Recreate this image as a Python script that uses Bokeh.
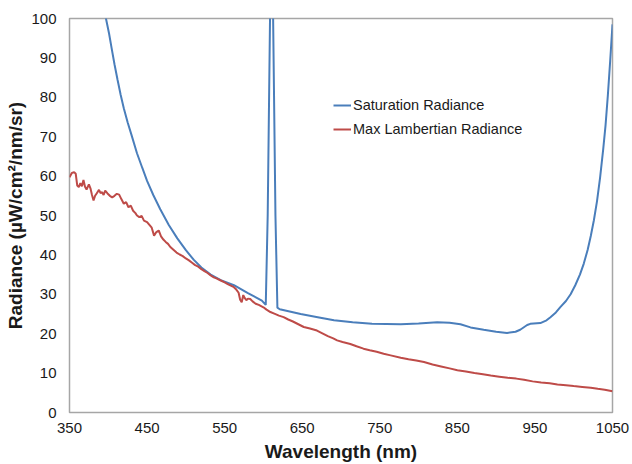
from bokeh.plotting import figure
from bokeh.models import Range1d, FixedTicker, Legend, LegendItem
from bokeh.embed import file_html
from bokeh.resources import INLINE

# Saturation Radiance (blue)
blue_wl = [394, 397, 401, 404, 408, 412, 416, 420, 425, 430, 437, 444, 450, 458, 467, 478, 489, 500,
           510, 520, 532, 545, 562, 580, 598, 603,
           605.5, 608.5, 610.5, 612.5, 615.5, 618, 621, 648, 670, 691, 715, 740, 777, 800, 824, 840,
           854, 867, 884, 900, 914, 925, 931, 940, 944, 957, 965, 970, 977, 983, 990, 996, 1002,
           1008, 1013, 1018, 1022, 1026, 1030, 1034, 1038, 1041, 1044, 1047, 1050]
blue_val = [106, 100, 96.2, 92.8, 88.4, 84.4, 80.6, 77.2, 73.6, 70.4, 65.8, 62.0, 58.8, 55.2, 51.6,
            47.6, 44.2, 41.2, 38.8, 36.8, 35.0, 33.6, 32.3, 30.3, 28.4, 27.3,
            50, 100, 125, 100, 50, 26.6, 26.2, 25, 24.2, 23.4, 22.9, 22.5, 22.4, 22.6, 22.9, 22.8,
            22.4, 21.6, 21.0, 20.5, 20.2, 20.5, 21.0, 22.2, 22.5, 22.7, 23.4, 24.2, 25.4, 26.8, 28.3,
            30.0, 32.3, 35.0, 37.8, 41.3, 44.8, 48.8, 53.6, 59.6, 66.8, 72.8, 80.5, 89.2, 98.5]

# Max Lambertian Radiance (red)
red_wl = [350, 353, 356, 358, 360, 362, 364, 366, 368, 370, 372, 375, 377, 379, 381, 383, 385, 388,
          390, 392, 394, 396, 399, 402, 405, 408, 411, 414, 417, 420, 423, 426, 429, 432, 435, 437,
          440, 443, 446, 450, 453, 456, 459, 462, 465, 468, 471, 474, 477, 480, 484, 488, 492, 496,
          500, 504, 508, 512, 516, 520, 524, 528, 532, 536, 540, 545, 550, 554, 558, 562, 565, 568,
          570, 572, 574, 576, 578, 580, 583, 586, 590, 594, 597, 600, 604, 609, 614, 620, 626, 632,
          638, 645, 652, 660, 669, 676, 683, 690, 695, 702, 712, 720, 729, 737, 746, 755, 764, 777,
          787, 797, 807, 818, 829, 840, 850, 861, 872, 883, 893, 904, 915, 926, 936, 947, 958, 969,
          979, 990, 1000, 1011, 1022, 1031, 1040, 1050]
red_val = [59.7, 60.8, 61.0, 60.6, 57.6, 57.2, 58.2, 57.4, 59.0, 57.3, 56.6, 57.9, 56.9, 55.2, 53.8,
           55.0, 55.6, 56.5, 55.7, 55.9, 55.2, 56.3, 55.6, 55.0, 54.6, 55.0, 55.5, 55.3, 54.1, 53.0,
           53.4, 52.1, 52.5, 51.2, 50.6, 50.0, 49.6, 49.9, 48.7, 48.3, 47.6, 46.9, 44.9, 45.8, 46.2,
           44.7, 43.9, 43.3, 42.8, 42.0, 41.3, 40.6, 40.1, 39.7, 39.1, 38.6, 38.0, 37.4, 37.0, 36.4,
           35.9, 35.4, 34.8, 34.3, 34.0, 33.5, 33.0, 32.6, 32.2, 31.8, 31.2, 30.4, 28.6, 28.0, 29.8,
           29.0, 28.5, 28.9, 28.8, 28.2, 27.6, 27.3, 27.0, 26.7, 26.1, 25.5, 25.1, 24.6, 24.2, 23.6,
           23.1, 22.4, 21.7, 21.3, 20.8, 20.1, 19.4, 18.8, 18.3, 17.9, 17.4, 16.8, 16.2, 15.8, 15.4,
           14.9, 14.5, 13.9, 13.5, 13.2, 12.8, 12.2, 11.7, 11.2, 10.7, 10.4, 10.0, 9.7, 9.4, 9.1, 8.8,
           8.6, 8.3, 7.9, 7.6, 7.4, 7.1, 6.9, 6.7, 6.5, 6.3, 6.0, 5.8, 5.4]

x_ticks = [350, 450, 550, 650, 750, 850, 950, 1050]
y_ticks = [0, 10, 20, 30, 40, 50, 60, 70, 80, 90, 100]

FONT = "Liberation Sans"

p = figure(width=632, height=464, output_backend="svg", toolbar_location=None,
           x_range=Range1d(350, 1050), y_range=Range1d(0, 100),
           min_border_left=69, min_border_right=20, min_border_top=18, min_border_bottom=52)
p.background_fill_color = "white"
p.border_fill_color = "white"
p.outline_line_color = "#a6a6a6"
p.outline_line_width = 1.5
p.xgrid.visible = False
p.ygrid.visible = False

for ax in (p.xaxis, p.yaxis):
    ax.axis_line_color = None
    ax.major_tick_line_color = None
    ax.minor_tick_line_color = None
    ax.major_label_text_font = FONT
    ax.major_label_text_font_size = "15px"
    ax.major_label_text_color = "#1a1a1a"
    ax.axis_label_text_font = FONT
    ax.axis_label_text_font_size = "19px"
    ax.axis_label_text_font_style = "bold"
    ax.axis_label_text_color = "#1a1a1a"

p.xaxis.ticker = FixedTicker(ticks=x_ticks)
p.yaxis.ticker = FixedTicker(ticks=y_ticks)
p.xaxis.major_label_standoff = 4
p.yaxis.major_label_standoff = 7
p.xaxis.axis_label = "Wavelength (nm)"
p.yaxis.axis_label = "Radiance (µW/cm²/nm/sr)"
p.xaxis.axis_label_standoff = 5
p.yaxis.axis_label_standoff = 2

r_blue = p.line(blue_wl, blue_val, line_color="#4a7ebb", line_width=2)
r_red = p.line(red_wl, red_val, line_color="#be4b48", line_width=2)

legend = Legend(items=[LegendItem(label="Saturation Radiance", renderers=[r_blue]),
                       LegendItem(label="Max Lambertian Radiance", renderers=[r_red])],
                location=(264, 274), orientation="vertical")
legend.border_line_color = None
legend.background_fill_alpha = 0
legend.label_text_font = FONT
legend.label_text_font_size = "14.5px"
legend.label_text_color = "#1a1a1a"
legend.glyph_width = 18
legend.glyph_height = 18
legend.label_standoff = 2
legend.spacing = 6
legend.padding = 0
legend.margin = 0
p.add_layout(legend, "center")

open("out.html", "w").write(file_html(p, INLINE))
